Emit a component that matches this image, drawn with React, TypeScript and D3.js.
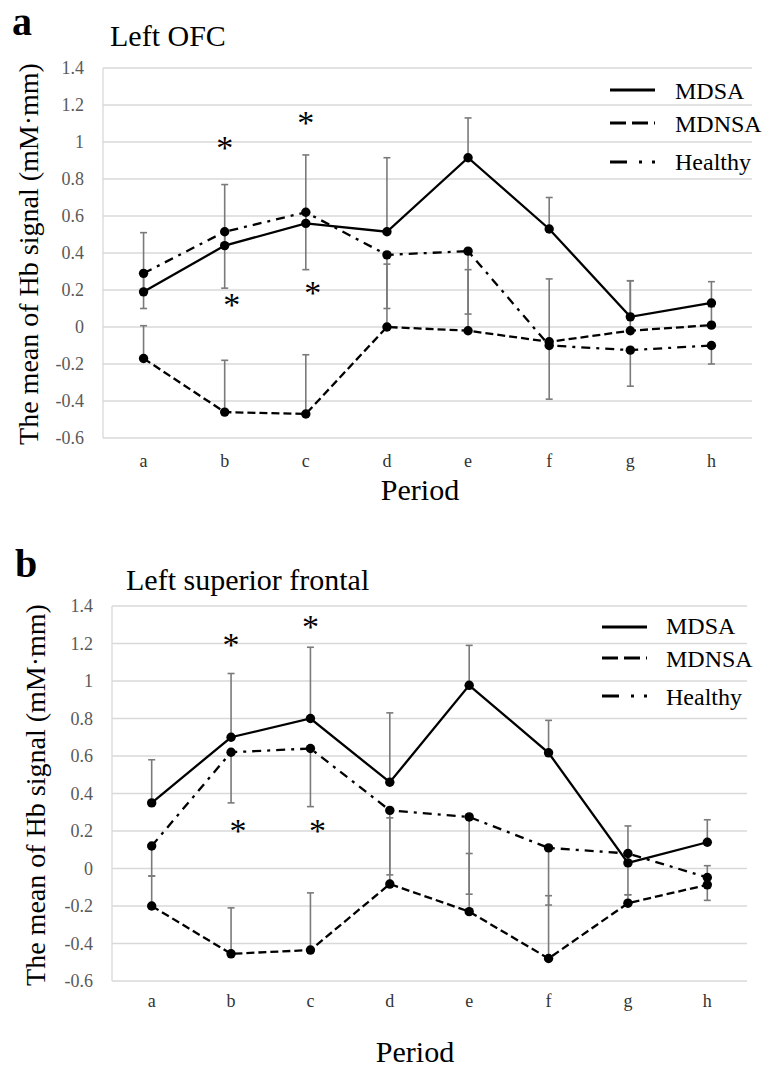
import * as d3 from 'd3';

const categories = ['a', 'b', 'c', 'd', 'e', 'f', 'g', 'h'];
const yTicks = [1.4, 1.2, 1, 0.8, 0.6, 0.4, 0.2, 0, -0.2, -0.4, -0.6];
const seriesNames = ['MDSA', 'MDNSA', 'Healthy'];

// a: Left OFC
const ofcMDSA = [0.19, 0.44, 0.56, 0.515, 0.915, 0.53, 0.055, 0.13];
const ofcMDNSA = [-0.17, -0.46, -0.47, 0.0, -0.02, -0.08, -0.02, 0.01];
const ofcHealthy = [0.29, 0.515, 0.62, 0.39, 0.41, -0.1, -0.125, -0.1];
const ofcMDSAPlus = [0.32, 0.33, 0.37, 0.4, 0.215, 0.17, 0.195, 0.115];
const ofcMDNSAPlus = [0.177, 0.28, 0.32, 0.34, 0.33, 0.34, 0.27, 0.1];
const ofcHealthyMinus = [0.19, 0.305, 0.31, 0.29, 0.34, 0.29, 0.195, 0.1];
const ofcStarHigh = [null, 0.995, 1.13, null, null, null, null, null];
const ofcStarLow = [null, 0.146, 0.21, null, null, null, null, null];

// b: Left superior frontal
const sfMDSA = [0.35, 0.7, 0.8, 0.46, 0.977, 0.617, 0.03, 0.14];
const sfMDNSA = [-0.2, -0.455, -0.435, -0.083, -0.23, -0.48, -0.185, -0.087];
const sfHealthy = [0.12, 0.62, 0.64, 0.31, 0.275, 0.11, 0.08, -0.048];
const sfMDSAPlus = [0.23, 0.34, 0.38, 0.37, 0.213, 0.173, 0.197, 0.12];
const sfMDNSAPlus = [0.16, 0.245, 0.305, 0.353, 0.31, 0.335, 0.045, 0.102];
const sfHealthyMinus = [0.16, 0.27, 0.31, 0.344, 0.412, 0.305, 0.22, 0.122];
const sfStarHigh = [null, 1.218, 1.314, null, null, null, null, null];
const sfStarLow = [null, 0.228, 0.228, null, null, null, null, null];

const FONT = '"Liberation Serif", "Times New Roman", serif';
const GRID = '#d9d9d9';
const ERR = '#7a7a7a';
const DASH = { MDSA: null, MDNSA: '8,4', Healthy: '9,6,3,6' } as Record<string, string | null>;
const LEG_DASH = { MDSA: null, MDNSA: '16,6', Healthy: '17,12,3,10,3' } as Record<string, string | null>;

type PanelProps = {
  letter: string; title: string;
  mdsa: number[]; mdnsa: number[]; healthy: number[];
  mdsaPlus: number[]; mdnsaPlus: number[]; healthyMinus: number[];
  starHigh: (number | null)[]; starLow: (number | null)[];
  L: any;
};

function Panel(p: PanelProps) {
  const { L } = p;
  const x = d3.scaleBand().domain(categories).range([L.left, L.right]);
  const cx = (c: string) => (x(c) as number) + x.bandwidth() / 2;
  const y = d3.scaleLinear().domain([-0.6, 1.4]).range([L.bottom, L.top]);
  const line = d3.line<number>().x((_, i) => cx(categories[i])).y(v => y(v));
  const series = [
    { name: 'MDSA', vals: p.mdsa },
    { name: 'MDNSA', vals: p.mdnsa },
    { name: 'Healthy', vals: p.healthy },
  ];
  const bars: { x: number; y0: number; y1: number }[] = [];
  categories.forEach((c, i) => {
    bars.push({ x: cx(c), y0: p.mdsa[i], y1: p.mdsa[i] + p.mdsaPlus[i] });
    bars.push({ x: cx(c), y0: p.mdnsa[i], y1: p.mdnsa[i] + p.mdnsaPlus[i] });
    bars.push({ x: cx(c), y0: p.healthy[i], y1: p.healthy[i] - p.healthyMinus[i] });
  });
  return (
    <g>
      <text x={L.letterX} y={L.letterY} fontSize={40} fontWeight="bold" fontFamily={FONT}>{p.letter}</text>
      <text x={L.titleX} y={L.titleY} fontSize={30} fontFamily={FONT}>{p.title}</text>
      {yTicks.map(t => (
        <g key={t}>
          <line x1={L.left} x2={L.right} y1={y(t)} y2={y(t)} stroke={GRID} strokeWidth={1.3} />
          <text x={L.tickX} y={y(t) + 6} textAnchor="end" fontSize={18} fill="#595959" fontFamily={FONT}>{String(t)}</text>
        </g>
      ))}
      <line x1={L.left} x2={L.left} y1={L.top} y2={L.bottom} stroke={GRID} strokeWidth={1.3} />
      {categories.map(c => (
        <text key={c} x={cx(c)} y={L.catY} textAnchor="middle" fontSize={18} fill="#333" fontFamily={FONT}>{c}</text>
      ))}
      <text x={L.periodX} y={L.periodY} textAnchor="middle" fontSize={30} fontFamily={FONT}>Period</text>
      <text transform={`translate(${L.yTitleX},${L.yTitleY}) rotate(-90)`} textAnchor="middle" fontSize={28} fontFamily={FONT}>
        The mean of Hb signal (mM·mm)
      </text>
      {bars.map((b, i) => (
        <g key={i} stroke={ERR} strokeWidth={1.6}>
          <line x1={b.x} x2={b.x} y1={y(b.y0)} y2={y(b.y1)} />
          <line x1={b.x - 3.5} x2={b.x + 3.5} y1={y(b.y1)} y2={y(b.y1)} />
        </g>
      ))}
      {series.map(s => (
        <path key={s.name} d={line(s.vals) || ''} fill="none" stroke="#000" strokeWidth={2.3}
          strokeDasharray={DASH[s.name] || undefined} />
      ))}
      {series.map(s => s.vals.map((v, i) => (
        <circle key={s.name + i} cx={cx(categories[i])} cy={y(v)} r={4.7} fill="#000" />
      )))}
      {p.starHigh.map((v, i) => v == null ? null : (
        <text key={'h' + i} x={cx(categories[i])} y={y(v) + 16} textAnchor="middle" fontSize={34} fontFamily={FONT}>*</text>
      ))}
      {p.starLow.map((v, i) => v == null ? null : (
        <text key={'l' + i} x={cx(categories[i]) + 7} y={y(v) + 16} textAnchor="middle" fontSize={34} fontFamily={FONT}>*</text>
      ))}
      {seriesNames.map((n, i) => (
        <g key={n}>
          <line x1={L.legX1} x2={L.legX2} y1={L.legLineY[i]} y2={L.legLineY[i]} stroke="#000" strokeWidth={3.2}
            strokeDasharray={LEG_DASH[n] || undefined} />
          <text x={L.legTextX} y={L.legTextY[i]} fontSize={24} fontFamily={FONT}>{n}</text>
        </g>
      ))}
    </g>
  );
}

const layoutA = {
  left: 103, right: 752, top: 68, bottom: 438, tickX: 84, catY: 467,
  periodX: 420, periodY: 500, titleX: 110, titleY: 46, letterX: 12, letterY: 35,
  yTitleX: 38, yTitleY: 254,
  legX1: 610, legX2: 655, legTextX: 675, legLineY: [90, 123, 162], legTextY: [99, 132, 170],
};
const layoutB = {
  left: 112, right: 747, top: 606, bottom: 981, tickX: 93, catY: 1007,
  periodX: 415, periodY: 1062, titleX: 126, titleY: 590, letterX: 15, letterY: 577,
  yTitleX: 45, yTitleY: 795,
  legX1: 602, legX2: 647, legTextX: 666, legLineY: [627, 658, 696], legTextY: [634, 667, 705],
};

export default function App() {
  return (
    <svg width={764} height={1069} style={{ position: 'absolute', left: 0, top: 0, background: '#fff' }}>
      <rect width={764} height={1069} fill="#fff" />
      <Panel letter="a" title="Left OFC" mdsa={ofcMDSA} mdnsa={ofcMDNSA} healthy={ofcHealthy}
        mdsaPlus={ofcMDSAPlus} mdnsaPlus={ofcMDNSAPlus} healthyMinus={ofcHealthyMinus}
        starHigh={ofcStarHigh} starLow={ofcStarLow} L={layoutA} />
      <Panel letter="b" title="Left superior frontal" mdsa={sfMDSA} mdnsa={sfMDNSA} healthy={sfHealthy}
        mdsaPlus={sfMDSAPlus} mdnsaPlus={sfMDNSAPlus} healthyMinus={sfHealthyMinus}
        starHigh={sfStarHigh} starLow={sfStarLow} L={layoutB} />
    </svg>
  );
}
